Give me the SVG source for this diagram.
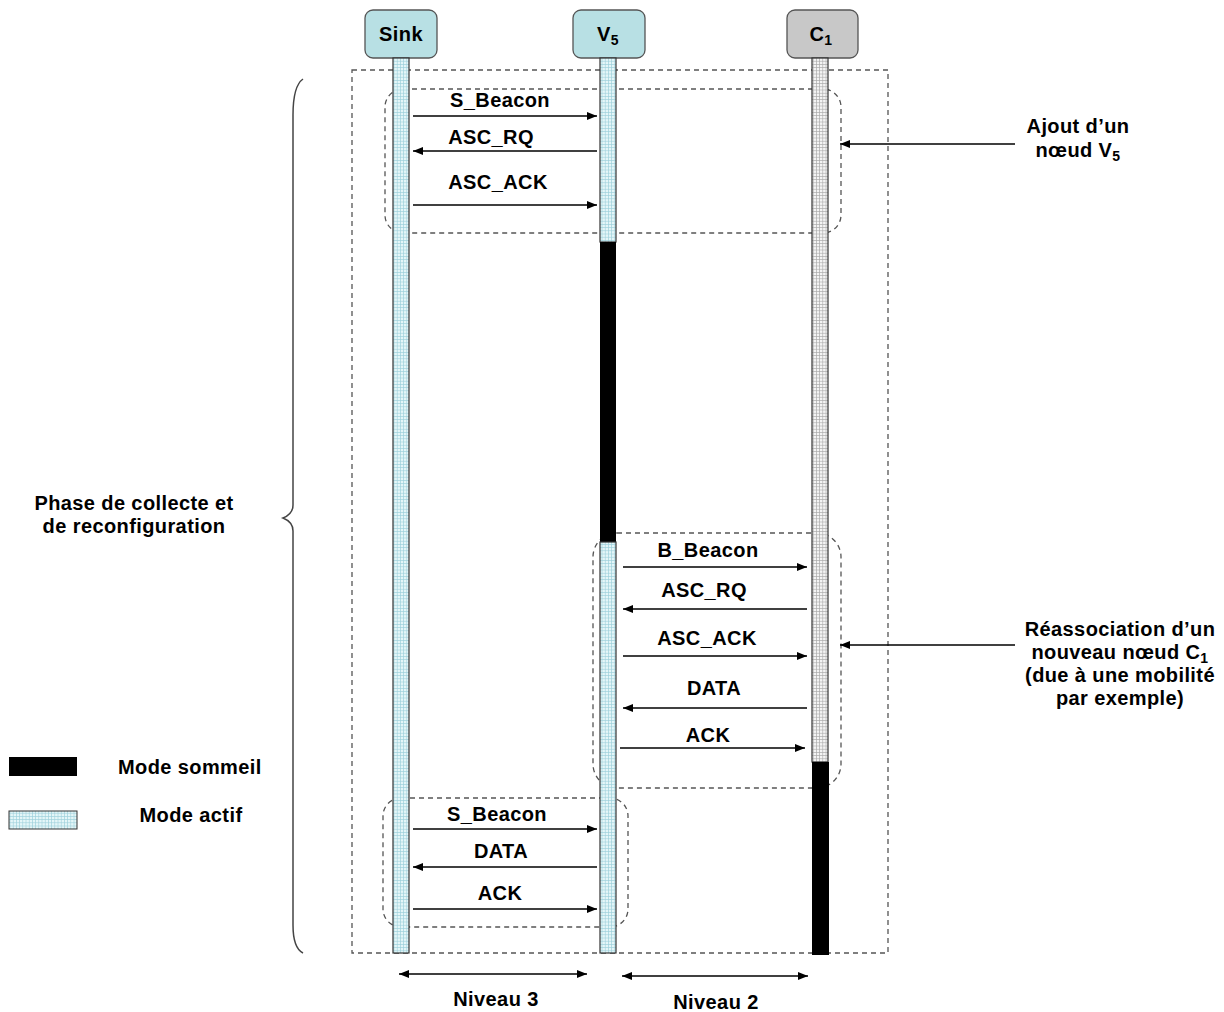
<svg xmlns="http://www.w3.org/2000/svg" width="1224" height="1012" viewBox="0 0 1224 1012">
<style>
text{font-family:"Liberation Sans",Arial,sans-serif;font-weight:bold;font-size:20px;letter-spacing:0.4px;fill:#000}
.msg{text-anchor:middle}
.dash{fill:none;stroke:#555;stroke-width:1.3;stroke-dasharray:5,4}
.arr{stroke:#000;stroke-width:1.3;fill:none;marker-end:url(#ah)}
.dbl{stroke:#000;stroke-width:1.3;fill:none;marker-end:url(#ah);marker-start:url(#ahs)}
.head{stroke:#555;stroke-width:1.3}
.bar{stroke:#333;stroke-width:1.2}
</style>
<defs>
<pattern id="gc" width="3.2" height="3.2" patternUnits="userSpaceOnUse">
<rect width="3.2" height="3.2" fill="#e4f6f8"/>
<path d="M0 0.3H3.2M0.3 0V3.2" stroke="#9ccfdc" stroke-width="0.7"/>
</pattern>
<pattern id="gg" width="3.2" height="3.2" patternUnits="userSpaceOnUse">
<rect width="3.2" height="3.2" fill="#f4f4f4"/>
<path d="M0 0.3H3.2M0.3 0V3.2" stroke="#a8a8a8" stroke-width="0.7"/>
</pattern>
<marker id="ah" viewBox="0 0 10 10" refX="10" refY="5" markerWidth="10" markerHeight="10" markerUnits="userSpaceOnUse" orient="auto">
<path d="M0 1L10 5L0 9z" fill="#000"/>
</marker>
<marker id="ahs" viewBox="0 0 10 10" refX="0" refY="5" markerWidth="10" markerHeight="10" markerUnits="userSpaceOnUse" orient="auto">
<path d="M10 1L0 5L10 9z" fill="#000"/>
</marker>
</defs>
<rect width="1224" height="1012" fill="#fff"/>

<!-- frames -->
<rect class="dash" x="352" y="70" width="536" height="883"/>
<rect class="dash" x="385" y="89" width="456" height="144" rx="18"/>
<rect class="dash" x="593" y="533" width="248" height="255" rx="24"/>
<rect class="dash" x="383" y="798" width="245" height="129" rx="18"/>

<!-- brace -->
<path d="M303 79Q293 86 293 115V505Q293 514 283 518Q293 522 293 531V925Q293 948 303 953" fill="none" stroke="#444" stroke-width="1.5"/>

<!-- nodes -->
<g id="sink">
<rect class="head" x="365" y="10" width="72" height="48" rx="8" fill="#b8e0e4"/>
<text class="msg" x="401" y="41">Sink</text>
<rect class="bar" x="393" y="58" width="16" height="895" fill="url(#gc)"/>
</g>
<g id="v5">
<rect class="head" x="573" y="10" width="72" height="48" rx="8" fill="#b8e0e4"/>
<text class="msg" x="608" y="41">V<tspan font-size="14" dy="4">5</tspan></text>
<rect class="bar" x="600" y="58" width="16" height="184" fill="url(#gc)"/>
<rect x="600" y="242" width="16" height="300" fill="#000"/>
<rect class="bar" x="600" y="542" width="16" height="411" fill="url(#gc)"/>
</g>
<g id="c1">
<rect class="head" x="787" y="10" width="71" height="48" rx="8" fill="#c8c8c8"/>
<text class="msg" x="821" y="41">C<tspan font-size="14" dy="4">1</tspan></text>
<rect class="bar" x="812" y="58" width="16" height="704" fill="url(#gg)"/>
<rect x="812" y="762" width="17" height="193" fill="#000"/>
</g>

<!-- connectors -->
<g id="connectors">
<path class="arr" d="M413 116H597"/>
<path class="arr" d="M597 151H413"/>
<path class="arr" d="M413 205H597"/>
<path class="arr" d="M623 567H807"/>
<path class="arr" d="M807 609H623"/>
<path class="arr" d="M623 656H807"/>
<path class="arr" d="M807 708H623"/>
<path class="arr" d="M620 748H805"/>
<path class="arr" d="M413 829H597"/>
<path class="arr" d="M597 867H413"/>
<path class="arr" d="M413 909H597"/>
<path class="arr" d="M1015 144H840"/>
<path class="arr" d="M1015 645H840"/>
<path class="dbl" d="M399 974H587"/>
<path class="dbl" d="M622 976H808"/>
</g>

<!-- message labels -->
<g id="labels">
<text class="msg" x="500" y="107">S_Beacon</text>
<text class="msg" x="491" y="144">ASC_RQ</text>
<text class="msg" x="498" y="189">ASC_ACK</text>
<text class="msg" x="708" y="557">B_Beacon</text>
<text class="msg" x="704" y="597">ASC_RQ</text>
<text class="msg" x="707" y="645">ASC_ACK</text>
<text class="msg" x="714" y="695">DATA</text>
<text class="msg" x="708" y="742">ACK</text>
<text class="msg" x="497" y="821">S_Beacon</text>
<text class="msg" x="501" y="858">DATA</text>
<text class="msg" x="500" y="900">ACK</text>
<text class="msg" x="496" y="1006">Niveau 3</text>
<text class="msg" x="716" y="1009">Niveau 2</text>
</g>

<g id="note-ajout">
<text class="msg" x="1078" y="133">Ajout d’un</text>
<text class="msg" x="1078" y="157">nœud V<tspan font-size="14" dy="4">5</tspan></text>
</g>
<g id="note-reassoc">
<text class="msg" x="1120" y="636">Réassociation d’un</text>
<text class="msg" x="1120" y="659">nouveau nœud C<tspan font-size="14" dy="4">1</tspan></text>
<text class="msg" x="1120" y="682">(due à une mobilité</text>
<text class="msg" x="1120" y="705">par exemple)</text>
</g>
<g id="phase">
<text class="msg" x="134" y="510">Phase de collecte et</text>
<text class="msg" x="134" y="533">de reconfiguration</text>
</g>

<g id="legend">
<rect x="9" y="757" width="68" height="19" fill="#000"/>
<text x="118" y="774">Mode sommeil</text>
<rect x="9" y="811" width="68" height="18" fill="url(#gc)" stroke="#333" stroke-width="1"/>
<text class="msg" x="191" y="822">Mode actif</text>
</g>
</svg>
